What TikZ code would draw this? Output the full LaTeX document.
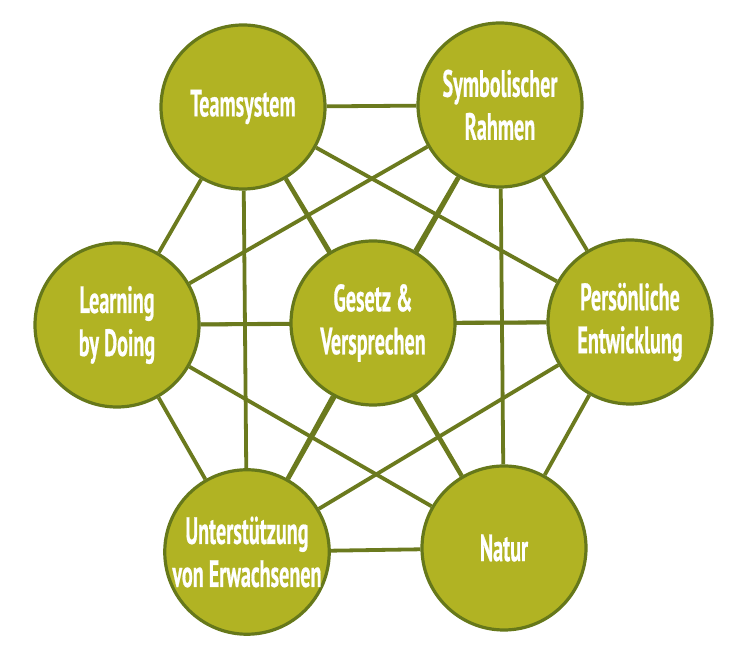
\documentclass[tikz,border=0pt]{standalone}
\usepackage{fontspec}
\usepackage{tikz}
\usetikzlibrary{positioning, calc, backgrounds}

\newfontfamily\labelfont{PT Sans}[FakeStretch=0.53, BoldFeatures={FakeBold=0.5}]
\definecolor{olivefill}{HTML}{B1B323}
\definecolor{oliverim}{HTML}{9A9C1C}
\definecolor{oliveedge}{HTML}{66781A}
\definecolor{olivelink}{HTML}{6B7A1E}

\pgfdeclareradialshading{rimshade}{\pgfpoint{0bp}{0bp}}{color(0bp)=(olivefill); color(40bp)=(olivefill); color(50bp)=(oliverim)}

\tikzset{
	topic/.style={circle, draw=oliveedge, line width=1.6pt, shading=rimshade, minimum size=82pt, inner sep=0pt, align=center, text=white, font=\labelfont\bfseries\fontsize{19}{21.5}\selectfont},
	link/.style={draw=olivelink, line width=1.9pt}
}

\begin{document}
\begin{tikzpicture}[x=0.5pt, y=-0.5pt]
	\useasboundingbox (0,0) rectangle (745,662);
	
	% the seven circles
	\node [topic] (law) at (373,323) {Gesetz \&\\Versprechen};
	\node [topic] (team) at (243,107) {Teamsystem};
	\node [topic] (symbol) at (500,105) {Symbolischer\\Rahmen};
	\node [topic] (growth) at (630,322) {Persönliche\\Entwicklung};
	\node [topic] (nature) at (504,548) {Natur};
	\node [topic] (adults) at (247,552) {Unterstützung\\von Erwachsenen};
	\node [topic] (doing) at (117,325) {Learning\\by Doing};
	
	% every circle linked to every other one
	\begin{scope}[on background layer]
		\foreach \a/\b in {team/symbol, team/growth, team/nature, team/adults, team/doing, team/law,
			symbol/growth, symbol/nature, symbol/adults, symbol/doing, symbol/law,
			growth/nature, growth/adults, growth/doing, growth/law,
			nature/adults, nature/doing, nature/law,
			adults/doing, adults/law, doing/law}
			\draw [link] (\a) -- (\b);
	\end{scope}
\end{tikzpicture}
\end{document}
